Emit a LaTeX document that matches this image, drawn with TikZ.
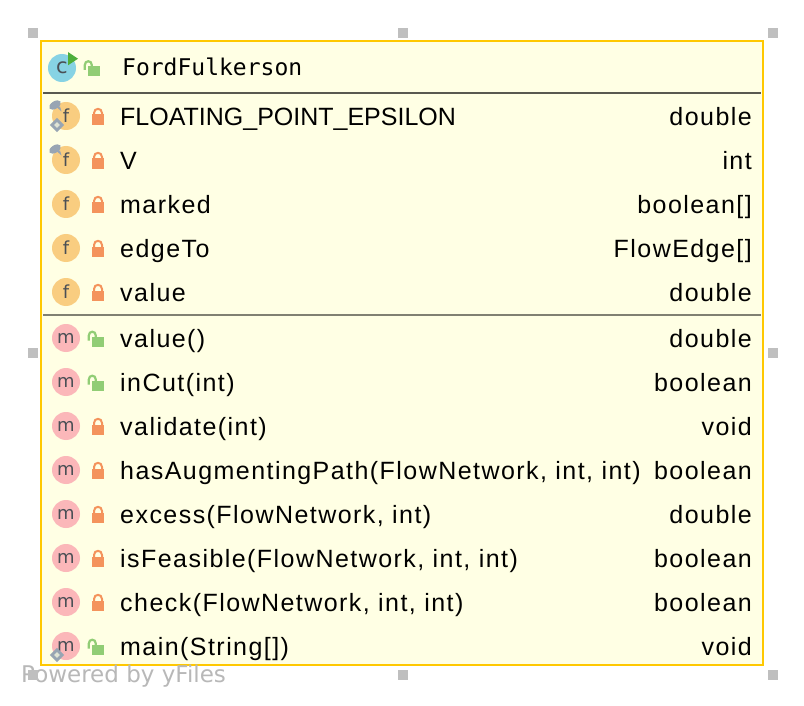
\documentclass[tikz,border=0pt]{standalone}
\usepackage{fontspec}
\setmainfont{Liberation Sans}
\newfontfamily\memberfont[LetterSpace=5.8]{Liberation Sans}
\newfontfamily\titlefont{DejaVu Sans Mono}
\newfontfamily\iconfont{DejaVu Sans}
\usetikzlibrary{shapes.geometric}
\definecolor{frameorange}{HTML}{FFC800}
\definecolor{bodyyellow}{HTML}{FFFFE4}
\definecolor{lockred}{HTML}{F4935C}
\definecolor{lockgreen}{HTML}{91CD75}
\definecolor{fieldorange}{HTML}{F9CD80}
\definecolor{methodpink}{HTML}{FBB7B9}
\definecolor{classblue}{HTML}{87D3E4}
\definecolor{marksteel}{HTML}{98A5B3}
\definecolor{rungreen}{HTML}{4DAE3A}
\definecolor{iconslate}{HTML}{4A4F55}
\tikzset{
  pics/lockshut/.style={code={
    \fill[lockred] (-6,-5) rectangle (6,5.5);
    \draw[lockred,line width=2pt] (-4,-4) -- (-4,-6.5) .. controls (-4,-12) and (4,-12) .. (4,-6.5) -- (4,-4);
  }},
  pics/lockopen/.style={code={
    \fill[lockgreen] (-6,-4.5) rectangle (6,5);
    \draw[lockgreen,line width=2.2pt] (-9.2,-1) -- (-9.2,-6) .. controls (-9.2,-11) and (-2.2,-11) .. (-2.2,-6) -- (-2.2,-4);
  }},
  pics/pinmark/.style={code={
    \node[ellipse,fill=marksteel,minimum width=13pt,minimum height=7.5pt,inner sep=0pt,rotate=32] at (0,0) {};
    \fill[marksteel] (2,2.5) -- (6.5,6.5) -- (5,1.5) -- cycle;
  }},
  pics/finalmark/.style={code={
    \fill[marksteel,rotate=45] (-5,-5) rectangle (5,5);
    \fill[bodyyellow!70!marksteel,rotate=45] (-2,-2) rectangle (2,2);
  }}
}
\begin{document}
\begin{tikzpicture}[x=1pt,y=-1pt]
  \tikzstyle{handle}=[fill=black!25,draw=none,minimum size=10pt,inner sep=0pt]
  \tikzstyle{icon}=[circle,minimum size=28pt,inner sep=0pt,text=iconslate,font=\iconfont\fontsize{18}{18}\selectfont]
  \tikzstyle{ficon}=[icon,fill=fieldorange]
  \tikzstyle{micon}=[icon,fill=methodpink]
  \tikzstyle{member}=[anchor=base west,inner sep=0pt,font=\memberfont\fontsize{25}{25}\selectfont]
  \tikzstyle{kind}=[anchor=base east,inner sep=0pt,font=\memberfont\fontsize{25}{25}\selectfont]
  \useasboundingbox (0,0) rectangle (804,706);
  \fill[white] (0,0) rectangle (804,706);
  % frame
  \node[draw=frameorange,fill=bodyyellow,line width=2pt,minimum width=722pt,minimum height=624pt,inner sep=0pt] (frame) at (402,353) {};
  \coordinate (headL) at (43,93);
  \coordinate (headR) at (761,93);
  \coordinate (fieldL) at (43,315);
  \coordinate (fieldR) at (761,315);
  \draw[black!65!bodyyellow,line width=1.6pt] (headL) -- (headR);
  \draw[black!50!bodyyellow,line width=1.6pt] (fieldL) -- (fieldR);
  % handles
  \node[handle] (h1) at (33,33) {};
  \node[handle] (h2) at (403,33) {};
  \node[handle] (h3) at (773,33) {};
  \node[handle] (h4) at (33,353) {};
  \node[handle] (h5) at (773,353) {};
  \node[text=black!28,anchor=base west,inner sep=0pt,font=\iconfont\fontsize{23}{24}\selectfont] (powered) at (21,682) {Powered by yFiles};
  \node[handle] (h6) at (33,675) {};
  \node[handle] (h7) at (403,675) {};
  \node[handle] (h8) at (773,675) {};
  % title
  \node[icon,fill=classblue,font=\iconfont\fontsize{21}{21}\selectfont] (classicon) at (62,68) {c};
  \fill[rungreen] (68,52) -- (78,58.7) -- (68,65.3) -- cycle;
  \pic at (94,71) {lockopen};
  \node[anchor=base west,inner sep=0pt,font=\titlefont\fontsize{23}{23}\selectfont] (title) at (122,76) {FordFulkerson};
  % fields
  \node[ficon] (i1) at (66,116) {f};
  \pic at (55,105) {pinmark};
  \pic at (57,125) {finalmark};
  \pic at (98,119.5) {lockshut};
  \node[member,font=\fontsize{25}{25}\selectfont] (n1) at (120,125.5) {FLOATING\_POINT\_EPSILON};
  \node[kind] (t1) at (752,125.5) {double};
  \node[ficon] (i2) at (66,160) {f};
  \pic at (55,149) {pinmark};
  \pic at (98,163.5) {lockshut};
  \node[member] (n2) at (120,169.5) {V};
  \node[kind] (t2) at (752,169.5) {int};
  \node[ficon] (i3) at (66,204) {f};
  \pic at (98,207.5) {lockshut};
  \node[member] (n3) at (120,213.5) {marked};
  \node[kind] (t3) at (752,213.5) {boolean[]};
  \node[ficon] (i4) at (66,248) {f};
  \pic at (98,251.5) {lockshut};
  \node[member] (n4) at (120,257.5) {edgeTo};
  \node[kind] (t4) at (752,257.5) {FlowEdge[]};
  \node[ficon] (i5) at (66,292) {f};
  \pic at (98,295.5) {lockshut};
  \node[member] (n5) at (120,301.5) {value};
  \node[kind] (t5) at (752,301.5) {double};
  % methods
  \node[micon] (m1) at (66,338) {m};
  \pic at (98,341.5) {lockopen};
  \node[member] (v1) at (120,347.5) {value()};
  \node[kind] (r1) at (752,347.5) {double};
  \node[micon] (m2) at (66,382) {m};
  \pic at (98,385.5) {lockopen};
  \node[member] (v2) at (120,391.5) {inCut(int)};
  \node[kind] (r2) at (752,391.5) {boolean};
  \node[micon] (m3) at (66,426) {m};
  \pic at (98,429.5) {lockshut};
  \node[member] (v3) at (120,435.5) {validate(int)};
  \node[kind] (r3) at (752,435.5) {void};
  \node[micon] (m4) at (66,470) {m};
  \pic at (98,473.5) {lockshut};
  \node[member] (v4) at (120,479.5) {hasAugmentingPath(FlowNetwork, int, int)};
  \node[kind] (r4) at (752,479.5) {boolean};
  \node[micon] (m5) at (66,514) {m};
  \pic at (98,517.5) {lockshut};
  \node[member] (v5) at (120,523.5) {excess(FlowNetwork, int)};
  \node[kind] (r5) at (752,523.5) {double};
  \node[micon] (m6) at (66,558) {m};
  \pic at (98,561.5) {lockshut};
  \node[member] (v6) at (120,567.5) {isFeasible(FlowNetwork, int, int)};
  \node[kind] (r6) at (752,567.5) {boolean};
  \node[micon] (m7) at (66,602) {m};
  \pic at (98,605.5) {lockshut};
  \node[member] (v7) at (120,611.5) {check(FlowNetwork, int, int)};
  \node[kind] (r7) at (752,611.5) {boolean};
  \node[micon] (m8) at (66,646) {m};
  \pic at (57,655) {finalmark};
  \pic at (98,649.5) {lockopen};
  \node[member] (v8) at (120,655.5) {main(String[])};
  \node[kind] (r8) at (752,655.5) {void};
\end{tikzpicture}
\end{document}
